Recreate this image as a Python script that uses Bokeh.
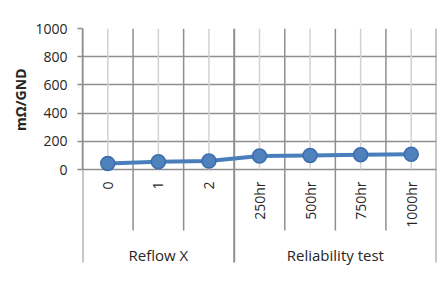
import math
from bokeh.plotting import figure
from bokeh.models import Range1d, FixedTicker, Title
from bokeh.core.properties import value
from bokeh.embed import file_html
from bokeh.resources import INLINE

categories = ["0", "1", "2", "250hr", "500hr", "750hr", "1000hr"]
values = [43, 55, 60, 95, 100, 105, 108]
groups = ["Reflow X", "Reliability test"]
group_sizes = [3, 4]
y_ticks = [0, 200, 400, 600, 800, 1000]
y_label = "mΩ/GND"

FONT = "Open Sans"
TXT = "#262626"
DARK = "#8f8f8f"
LIGHT = "#d2d2d2"

# layout (pixels)
W, H = 445, 281
TOP, LEFT, RIGHT = 28, 82, 9
PLOT_H = 141                 # pixels from y=1000 to y=0
UPP = 1000 / PLOT_H          # data units per pixel
y_bottom = -(H - TOP - PLOT_H) * UPP

n = len(categories)
xs = [i + 0.5 for i in range(n)]

bounds = [0]
for s in group_sizes:
    bounds.append(bounds[-1] + s)
inner = [b for b in range(1, n) if b not in bounds]

p = figure(width=W, height=H, x_range=Range1d(0, n), y_range=Range1d(y_bottom, 1000),
           output_backend="svg", toolbar_location=None, x_axis_location=None,
           min_border_left=LEFT, min_border_right=RIGHT, min_border_top=TOP, min_border_bottom=0)
p.background_fill_color = "white"
p.border_fill_color = "white"
p.outline_line_color = None

# y axis
ya = p.yaxis[0]
ya.ticker = FixedTicker(ticks=y_ticks)
ya.bounds = (0, 1000)
ya.axis_line_color = DARK
ya.axis_line_width = 1.5
ya.major_tick_line_color = DARK
ya.major_tick_line_width = 1.5
ya.major_tick_out = 5
ya.major_tick_in = 0
ya.minor_tick_line_color = None
ya.major_label_standoff = 10
ya.major_label_text_font = FONT
ya.major_label_text_font_size = "14px"
ya.major_label_text_color = TXT

# y axis title, centred on the 0..1000 part of the axis
p.add_layout(Title(text=y_label, align="right", offset=40, vertical_align="bottom",
                   standoff=6, text_font=FONT, text_font_size="14px",
                   text_font_style="bold", text_color=TXT), "left")

# horizontal grid
p.ygrid.grid_line_color = DARK
p.ygrid.grid_line_width = 1.5
p.ygrid.ticker = FixedTicker(ticks=y_ticks)
p.xgrid.grid_line_color = None

# vertical grid lines (centers, light) and category boundaries (dark, extending below)
p.segment(x0=xs, y0=[0] * n, x1=xs, y1=[1000] * n, line_color=LIGHT, line_width=1.5)
p.segment(x0=inner, y0=[-61 * UPP] * len(inner), x1=inner, y1=[1000] * len(inner),
          line_color=DARK, line_width=1.5)
p.segment(x0=bounds, y0=[-93 * UPP] * len(bounds), x1=bounds, y1=[1000] * len(bounds),
          line_color=DARK, line_width=2)

# data
p.line(xs, values, line_width=4, line_color="#4a7ebb")
p.scatter(xs, values, size=14, fill_color="#4f81bd", line_color="#3b6cab", line_width=1.5)

# category labels
p.text(x=xs, y=[-12 * UPP] * n, text=categories, angle=math.pi / 2,
       text_align="right", text_baseline="middle",
       text_font=value(FONT), text_font_size=value("14px"), text_color=TXT)

# group labels
gx = [(a + b) / 2 for a, b in zip(bounds[:-1], bounds[1:])]
p.text(x=gx, y=[-85 * UPP] * len(groups), text=groups,
       text_align="center", text_baseline="middle",
       text_font=value(FONT), text_font_size=value("15px"), text_color=TXT)

open("out.html", "w").write(file_html(p, INLINE))
